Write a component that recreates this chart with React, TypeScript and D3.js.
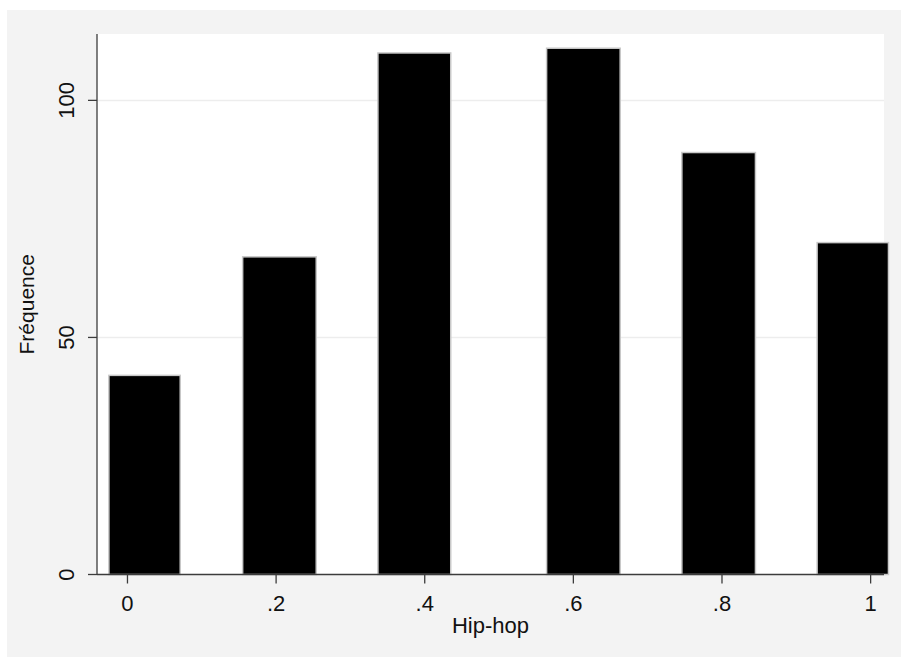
import React from "react";
import * as d3 from "d3";

const binLow = [-0.025, 0.155, 0.337, 0.564, 0.746, 0.928];
const binHigh = [0.071, 0.254, 0.435, 0.663, 0.845, 1.024];
const counts = [42, 67, 110, 111, 89, 70];
const xTicks = [0, 0.2, 0.4, 0.6, 0.8, 1];
const xTickLabels = ["0", ".2", ".4", ".6", ".8", "1"];
const yTicks = [0, 50, 100];
const yTickLabels = ["0", "50", "100"];
const xTitle = "Hip-hop";
const yTitle = "Fréquence";

const W = 901;
const H = 657;
const plot = { left: 97, right: 884, top: 34, bottom: 574.5 };
const FONT = "'Liberation Sans', Arial, Helvetica, sans-serif";

export default function App() {
  const x = d3.scaleLinear().domain([-0.041, 1.018]).range([plot.left, plot.right]);
  const y = d3.scaleLinear().domain([0, 114]).range([plot.bottom, plot.top]);
  const axisColor = "#3c3c3c";

  return (
    <svg
      width={W}
      height={H}
      style={{ position: "absolute", left: 0, top: 0, display: "block" }}
      fontFamily={FONT}
    >
      <rect x={0} y={0} width={W} height={H} fill="#ffffff" />
      <rect x={7} y={10} width={W - 7} height={H - 10} fill="#f3f3f3" />
      <rect
        x={plot.left}
        y={plot.top}
        width={plot.right - plot.left}
        height={plot.bottom - plot.top}
        fill="#ffffff"
      />
      {yTicks
        .filter((t) => t > 0)
        .map((t) => (
          <line
            key={"g" + t}
            x1={plot.left}
            x2={plot.right}
            y1={y(t)}
            y2={y(t)}
            stroke="#ededed"
            strokeWidth={1.5}
          />
        ))}
      {counts.map((c, i) => (
        <rect
          key={"b" + i}
          x={x(binLow[i])}
          y={y(c)}
          width={x(binHigh[i]) - x(binLow[i])}
          height={y(0) - y(c)}
          fill="#000000"
          stroke="#c8c8c8"
          strokeWidth={1.5}
        />
      ))}
      {/* y axis */}
      <line x1={plot.left} x2={plot.left} y1={plot.top} y2={plot.bottom} stroke={axisColor} strokeWidth={1.3} />
      {yTicks.map((t, i) => (
        <g key={"yt" + t}>
          <line x1={plot.left - 9} x2={plot.left} y1={y(t)} y2={y(t)} stroke={axisColor} strokeWidth={1.3} />
          <text
            transform={`translate(73.5,${y(t)}) rotate(-90)`}
            textAnchor="middle"
            fontSize={22}
            fill="#111"
          >
            {yTickLabels[i]}
          </text>
        </g>
      ))}
      {/* x axis */}
      <line x1={plot.left} x2={plot.right} y1={plot.bottom} y2={plot.bottom} stroke={axisColor} strokeWidth={1.3} />
      {xTicks.map((t, i) => (
        <g key={"xt" + t}>
          <line x1={x(t)} x2={x(t)} y1={plot.bottom} y2={plot.bottom + 9} stroke={axisColor} strokeWidth={1.3} />
          <text x={x(t)} y={610.5} textAnchor="middle" fontSize={22} fill="#111">
            {xTickLabels[i]}
          </text>
        </g>
      ))}
      <text x={(plot.left + plot.right) / 2} y={632.5} textAnchor="middle" fontSize={22} fill="#111">
        {xTitle}
      </text>
      <text
        transform={`translate(33.5,${(plot.top + plot.bottom) / 2}) rotate(-90)`}
        textAnchor="middle"
        fontSize={21}
        fill="#111"
      >
        {yTitle}
      </text>
    </svg>
  );
}
